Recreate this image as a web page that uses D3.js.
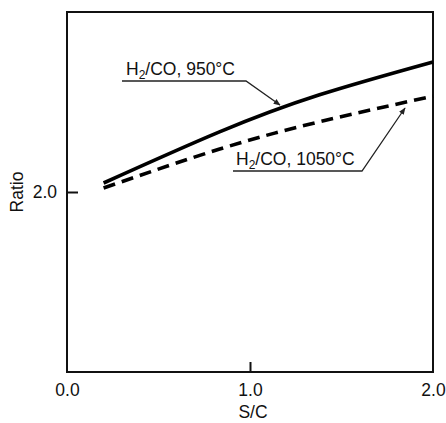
<!DOCTYPE html>
<html lang="en">
<head>
    <meta charset="UTF-8">
    <title>Ratio vs S/C</title>
    <script src="https://d3js.org/d3.v7.min.js"></script>
    <style>
        body {margin: 0; background: white}
        text {
            font-family: 'Liberation Sans', Arial, sans-serif;
            font-size: 17.5px;
            fill: #111;
        }
        .frame {fill: none; stroke: #111; stroke-width: 2}
        .curve {fill: none; stroke: #000; stroke-width: 3.6}
        .dashed {stroke-dasharray: 12 7}
        .leader {fill: none; stroke: #222; stroke-width: 1.3}
    </style>
</head>
<body>
<script>
    const width  = 446;
    const height = 423;

    const sc        = [0.2, 0.83, 1.38, 2.0];
    const ratio950  = [2.020, 2.133, 2.216, 2.289];
    const ratio1050 = [2.009, 2.095, 2.156, 2.213];

    const xTicks = [0.0, 1.0, 2.0];
    const yTicks = [2.0];

    const m = {left: 67, right: 433, top: 12, bottom: 372};

    const x = d3.scaleLinear().domain([0, 2]).range([m.left, m.right]);
    const y = d3.scaleLinear().domain([1.6, 2.4]).range([m.bottom, m.top]);

    const svg = d3.select("body")
            .append("svg")
            .attr("width", width)
            .attr("height", height);

    // arrow head for the label leaders
    svg.append("defs").append("marker")
            .attr("id", "arrow")
            .attr("viewBox", "0 0 10 10")
            .attr("refX", 9).attr("refY", 5)
            .attr("markerWidth", 7).attr("markerHeight", 7)
            .attr("markerUnits", "userSpaceOnUse")
            .attr("orient", "auto")
            .append("path")
            .attr("d", "M0,1 L10,5 L0,9 Z")
            .attr("fill", "#222");

    // box
    svg.append("rect").attr("class", "frame")
            .attr("x", m.left).attr("y", m.top)
            .attr("width", m.right - m.left).attr("height", m.bottom - m.top);

    // x axis: inward ticks, labels below
    const xAxis = d3.axisBottom(x).tickValues(xTicks)
            .tickFormat(d3.format(".1f"))
            .tickSize(0).tickPadding(12).tickSizeOuter(0);
    const gx = svg.append("g")
            .attr("transform", `translate(0,${m.bottom})`)
            .call(xAxis);
    gx.select(".domain").remove();
    gx.selectAll(".tick text").attr("font-size", null).attr("font-family", null);
    gx.selectAll(".tick")
            .filter(d => d > 0 && d < 2)
            .append("line")
            .attr("y1", 0).attr("y2", -10)
            .attr("stroke", "#111").attr("stroke-width", 2);

    // y axis: single inward tick
    const yAxis = d3.axisLeft(y).tickValues(yTicks)
            .tickFormat(d3.format(".1f"))
            .tickSize(0).tickPadding(10).tickSizeOuter(0);
    const gy = svg.append("g")
            .attr("transform", `translate(${m.left},0)`)
            .call(yAxis);
    gy.select(".domain").remove();
    gy.selectAll(".tick text").attr("font-size", null).attr("font-family", null);
    gy.selectAll(".tick").append("line")
            .attr("x1", 0).attr("x2", 11)
            .attr("stroke", "#111").attr("stroke-width", 2);

    // axis titles
    svg.append("text")
            .attr("x", (m.left + m.right) / 2 + 3).attr("y", 418)
            .attr("text-anchor", "middle")
            .text("S/C");
    svg.append("text")
            .attr("transform", `translate(23,${y(2.0)}) rotate(-90)`)
            .attr("text-anchor", "middle")
            .text("Ratio");

    // curves
    const line = d3.line()
            .x(d => x(d[0]))
            .y(d => y(d[1]))
            .curve(d3.curveNatural);

    svg.append("path").attr("class", "curve")
            .attr("d", line(d3.zip(sc, ratio950)));
    svg.append("path").attr("class", "curve dashed")
            .attr("d", line(d3.zip(sc, ratio1050)));

    // labels with leaders
    function label(str, tx, ty, pts) {
        const t = svg.append("text").attr("x", tx).attr("y", ty);
        const [main, rest] = str.split("2");
        t.append("tspan").text(main);
        t.append("tspan").attr("dy", 4).attr("font-size", 12).text("2");
        t.append("tspan").attr("dy", -4).text(rest);
        svg.append("path").attr("class", "leader")
                .attr("marker-end", "url(#arrow)")
                .attr("d", d3.line()(pts));
    }

    label("H2/CO, 950\u00b0C", 126, 75,
            [[122, 81], [246, 81], [280, 105]]);
    label("H2/CO, 1050\u00b0C", 236, 165,
            [[233, 171], [362, 171], [405, 108]]);
</script>
</body>
</html>
